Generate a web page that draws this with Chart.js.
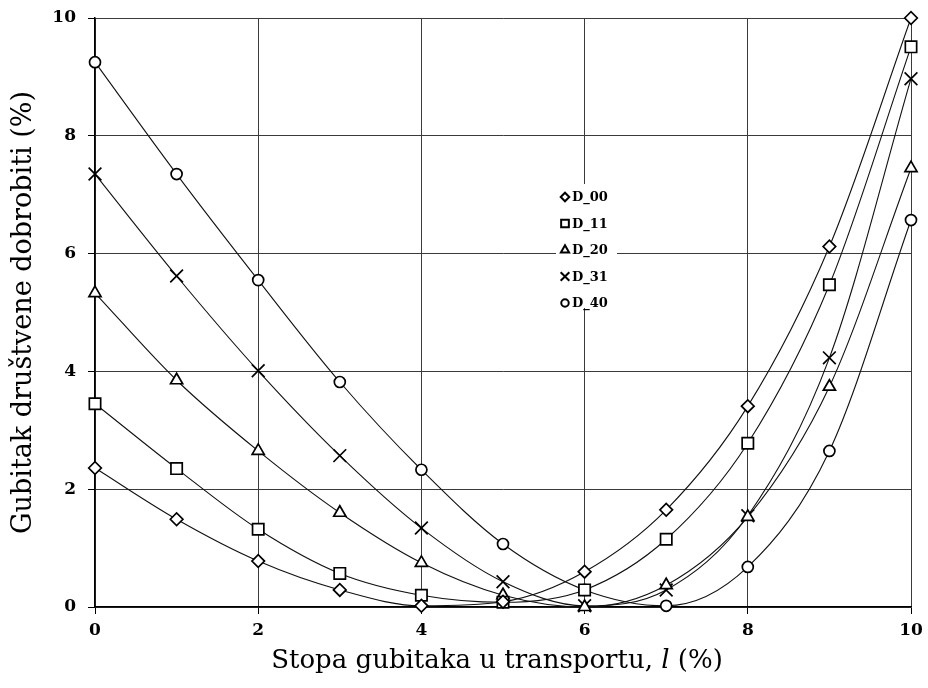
<!DOCTYPE html>
<html><head><meta charset="utf-8">
<script src="https://cdn.jsdelivr.net/npm/chart.js@4.4.1/dist/chart.umd.min.js"></script>
<style>html,body{margin:0;padding:0;background:#fff}#wrap{width:928px;height:688px}</style>
</head><body><div id="wrap"><canvas id="c" width="928" height="688"></canvas></div>
<script>
const xValues = [0,1,2,3,4,5,6,7,8,9,10];
const D_00 = [2.36,1.49,0.78,0.29,0.02,0.09,0.60,1.65,3.41,6.12,10.0];
const D_11 = [3.45,2.35,1.32,0.57,0.20,0.08,0.29,1.15,2.78,5.47,9.51];
const D_20 = [5.33,3.85,2.65,1.60,0.75,0.20,0.00,0.37,1.53,3.74,7.45];
const D_31 = [7.35,5.62,4.01,2.57,1.34,0.43,0.02,0.29,1.55,4.23,8.97];
const D_40 = [9.25,7.35,5.55,3.82,2.33,1.07,0.29,0.02,0.68,2.65,6.57];
const seriesNames = ['D_00','D_11','D_20','D_31','D_40'];
const seriesData = [D_00,D_11,D_20,D_31,D_40];
const pointStyles = ['rectRot','rect','triangle','crossRot','circle'];
const pointRadii = [6.3,8,7,9,5.5];
const xTicks = [0,2,4,6,8,10];
const yTicks = [0,2,4,6,8,10];
const xTitleParts = [['Stopa gubitaka u transportu, ','normal'],['l','italic'],[' (%)','normal']];
const yTitle = 'Gubitak društvene dobrobiti (%)';

const SERIF = '"DejaVu Serif", serif';

const datasets = seriesNames.map((n,i)=>({
  label:n,
  data: xValues.map((x,j)=>({x:x,y:seriesData[i][j]})),
  borderColor:'#111', borderWidth:1.1,
  pointStyle:pointStyles[i], pointRadius:pointRadii[i],
  pointBackgroundColor:'#fff', pointBorderColor:'#000', pointBorderWidth:1.7,
  cubicInterpolationMode:'monotone', fill:false, clip:false
}));

const legendPlugin = {
  id:'innerLegend',
  afterDraw(chart){
    const ctx = chart.ctx;
    ctx.save();
    ctx.fillStyle='#fff';
    ctx.fillRect(556,184,61,124);
    const x0=565, y0=197, dy=26.5;
    chart.data.datasets.forEach((ds,i)=>{
      const y=y0+i*dy;
      ctx.strokeStyle='#000'; ctx.fillStyle='#fff'; ctx.lineWidth=2;
      Chart.helpers.drawPoint(ctx,{pointStyle:ds.pointStyle,radius:ds.pointRadius*0.68,borderWidth:2},x0,y);
      ctx.fillStyle='#000';
      ctx.font='bold 13px '+SERIF;
      ctx.textBaseline='middle'; ctx.textAlign='left';
      ctx.fillText(ds.label,x0+7,y+1);
    });
    ctx.restore();
  }
};

const xTitlePlugin = {
  id:'xTitle',
  afterDraw(chart){
    const ctx=chart.ctx; ctx.save();
    ctx.fillStyle='#000'; ctx.textBaseline='alphabetic';
    let total=0;
    xTitleParts.forEach(p=>{ctx.font=p[1]+' 26px '+SERIF; total+=ctx.measureText(p[0]).width;});
    const ca=chart.chartArea;
    let x=(ca.left+ca.right)/2-total/2-6;
    xTitleParts.forEach(p=>{ctx.font=p[1]+' 26px '+SERIF; ctx.fillText(p[0],x,668); x+=ctx.measureText(p[0]).width;});
    ctx.restore();
  }
};

new Chart(document.getElementById('c'),{
  type:'line',
  data:{datasets},
  options:{
    responsive:false, animation:false,
    layout:{padding:{left:0,right:17,top:18,bottom:0}},
    plugins:{legend:{display:false},tooltip:{enabled:false}},
    scales:{
      x:{type:'linear',min:0,max:10,
        afterBuildTicks(s){s.ticks=xTicks.map(v=>({value:v}));},
        afterFit(s){s.height=81;s.paddingLeft=0;s.paddingRight=0;},
        grid:{color:'#3a3a3a',lineWidth:1,tickLength:7,drawTicks:true,tickColor:'#000'},
        border:{color:'#000',width:1.5},
        ticks:{color:'#000',font:{family:SERIF,size:17,weight:'bold'},padding:6,maxRotation:0}
      },
      y:{type:'linear',min:0,max:10,
        afterBuildTicks(s){s.ticks=yTicks.map(v=>({value:v}));},
        afterFit(s){s.width=95;s.paddingTop=0;s.paddingBottom=0;},
        grid:{color:'#3a3a3a',lineWidth:1,tickLength:7,tickColor:'#000'},
        border:{color:'#000',width:1.5},
        ticks:{color:'#000',font:{family:SERIF,size:17,weight:'bold'},padding:12},
        title:{display:true,text:yTitle,color:'#000',font:{family:SERIF,size:27},padding:{top:8,bottom:0}}
      }
    }
  },
  plugins:[legendPlugin,xTitlePlugin]
});
</script></body></html>
